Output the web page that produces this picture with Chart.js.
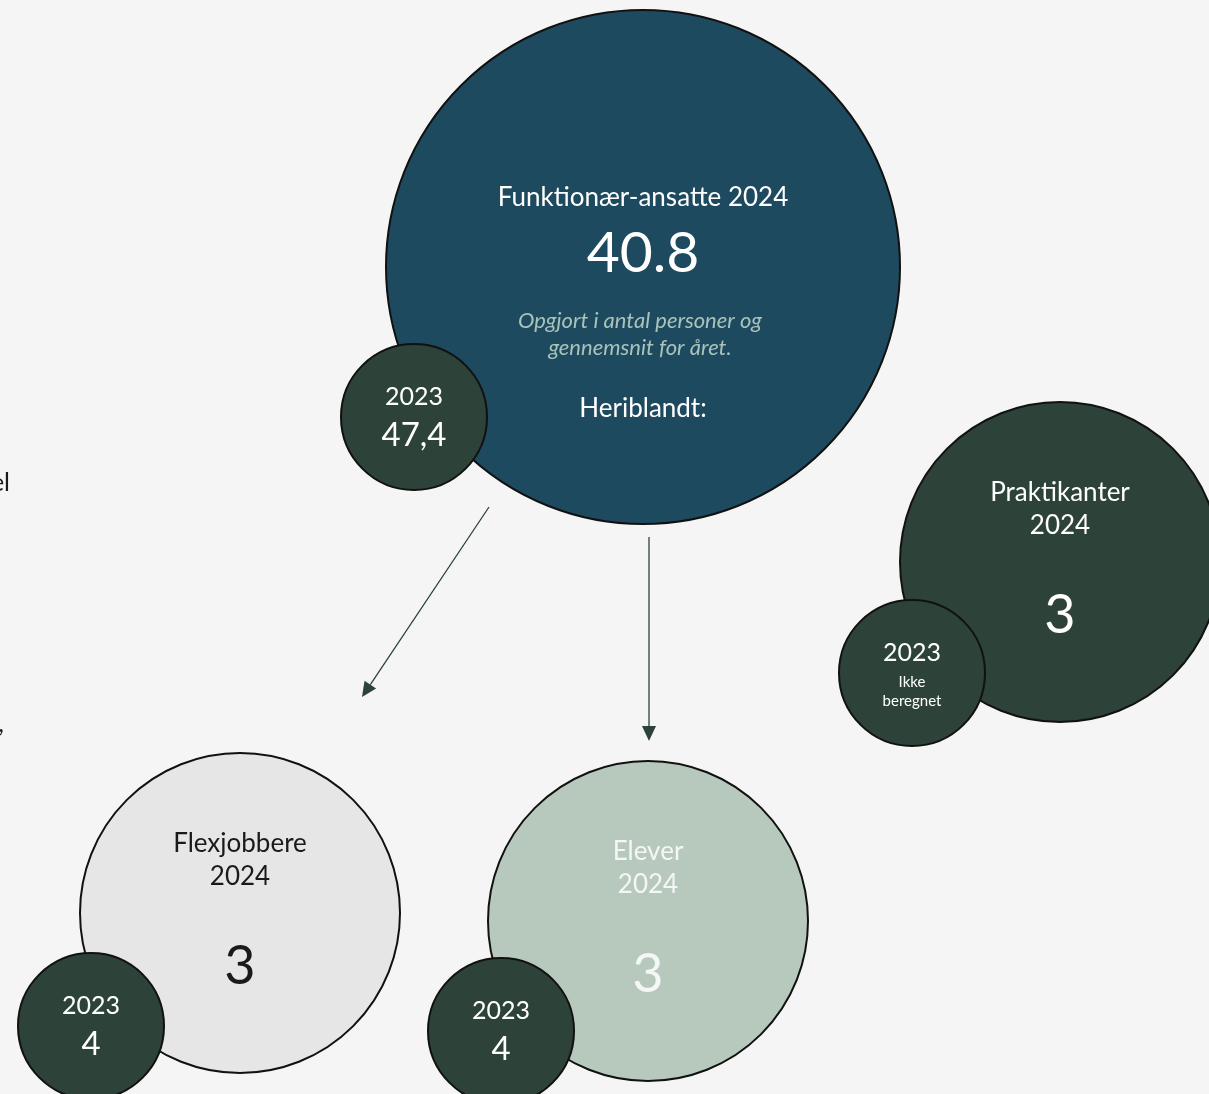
<!DOCTYPE html>
<html>
<head>
<meta charset="utf-8">
<script src="https://cdn.jsdelivr.net/npm/chart.js@4.4.1/dist/chart.umd.min.js"></script>
<style>
  html, body { margin: 0; padding: 0; background: #f5f5f5; }
  #wrap { width: 1209px; height: 1094px; position: relative; }
</style>
</head>
<body>
<div id="wrap"><canvas id="bubbles"></canvas></div>
<script>
// ── Data ──────────────────────────────────────────────
const groups      = ['Funktionær-ansatte', 'Praktikanter', 'Flexjobbere', 'Elever'];
const values2024  = ['40.8', '3', '3', '3'];
const values2023  = ['47,4', 'Ikke beregnet', '4', '4'];
const yearNow     = '2024';
const yearPrev    = '2023';
const noteLines   = ['Opgjort i antal personer og', 'gennemsnit for året.'];
const subLabel    = 'Heriblandt:';

// layout grid (chart units) for the main and the 2023 bubbles
const mainX = [643, 1060, 240, 648];
const mainY = [267, 562, 913, 921];
const mainR = [257, 160, 160, 160];
const prevX = [414, 912, 91, 501];
const prevY = [417, 673, 1026, 1031];
const prevR = [73, 73, 73, 73];

// ── Style ─────────────────────────────────────────────
const FONT      = 'Lato, "Open Sans", sans-serif';
const DARK      = '#2d4239';
const mainFill  = ['#1e4a5f', DARK, '#e6e6e6', '#b7c9bd'];
const mainInk   = ['#ffffff', '#ffffff', '#1a1a1a', '#f4f7f5'];

function txt(ctx, s, x, y, size, color, style) {
  ctx.font = (style || '') + ' ' + size + 'px ' + FONT;
  ctx.fillStyle = color;
  ctx.textAlign = 'center';
  ctx.textBaseline = 'middle';
  ctx.fillText(s, x, y);
}

function arrow(ctx, x1, y1, x2, y2) {
  const a = Math.atan2(y2 - y1, x2 - x1);
  const hl = 15, hw = 7;
  const bx = x2 - hl * Math.cos(a), by = y2 - hl * Math.sin(a);
  ctx.strokeStyle = DARK; ctx.fillStyle = DARK; ctx.lineWidth = 1.3;
  ctx.beginPath(); ctx.moveTo(x1, y1); ctx.lineTo(bx, by); ctx.stroke();
  ctx.beginPath();
  ctx.moveTo(x2, y2);
  ctx.lineTo(bx + hw * Math.sin(a), by - hw * Math.cos(a));
  ctx.lineTo(bx - hw * Math.sin(a), by + hw * Math.cos(a));
  ctx.closePath(); ctx.fill();
}

// text and arrows on top of the bubbles
const labelsPlugin = {
  id: 'labels',
  afterDatasetsDraw(chart) {
    const ctx = chart.ctx;
    const xs = chart.scales.x, ys = chart.scales.y;
    const px = v => xs.getPixelForValue(v), py = v => ys.getPixelForValue(v);
    ctx.save();

    // arrows from the main bubble
    arrow(ctx, px(489), py(507), px(362), py(697));
    arrow(ctx, px(649), py(537), px(649), py(741));

    // main bubble
    let cx = px(mainX[0]), cy = py(mainY[0]);
    txt(ctx, groups[0] + ' ' + yearNow, cx, cy - 69, 26, mainInk[0]);
    txt(ctx, values2024[0], cx, cy - 13, 57, mainInk[0]);
    txt(ctx, noteLines[0], cx - 3, cy + 54, 22, '#a9c3ba', 'italic');
    txt(ctx, noteLines[1], cx - 3, cy + 81, 22, '#a9c3ba', 'italic');
    txt(ctx, subLabel, cx, cy + 142, 26, mainInk[0]);

    // other 2024 bubbles
    for (let i = 1; i < groups.length; i++) {
      cx = px(mainX[i]); cy = py(mainY[i]);
      txt(ctx, groups[i], cx, cy - 69, 26, mainInk[i]);
      txt(ctx, yearNow, cx, cy - 36, 26, mainInk[i]);
      txt(ctx, values2024[i], cx, cy + 54, 54, mainInk[i]);
    }

    // 2023 bubbles
    for (let i = 0; i < groups.length; i++) {
      cx = px(prevX[i]); cy = py(prevY[i]);
      txt(ctx, yearPrev, cx, cy - 20, 25, '#ffffff');
      const words = values2023[i].split(' ');
      if (words.length > 1) {
        txt(ctx, words[0], cx, cy + 9, 15, '#ffffff');
        txt(ctx, words[1], cx, cy + 28, 15, '#ffffff');
      } else {
        txt(ctx, values2023[i], cx, cy + 18, 33, '#ffffff');
      }
    }

    // clipped text fragments at the left edge
    ctx.font = '25px ' + FONT;
    ctx.fillStyle = '#1a1a1a';
    ctx.textAlign = 'right';
    ctx.textBaseline = 'middle';
    ctx.fillText('el', px(10), py(483));
    ctx.fillText(',', px(4), py(724));
    ctx.restore();
  }
};

const chart = new Chart(document.getElementById('bubbles'), {
  type: 'bubble',
  data: {
    datasets: [
      {
        label: yearPrev,
        order: 0,
        data: prevX.map((x, i) => ({ x: x, y: prevY[i], r: prevR[i] })),
        backgroundColor: DARK,
        borderColor: '#111111',
        borderWidth: 2,
      },
      {
        label: yearNow,
        order: 1,
        data: mainX.map((x, i) => ({ x: x, y: mainY[i], r: mainR[i] })),
        backgroundColor: mainFill,
        borderColor: '#111111',
        borderWidth: 2,
      },
    ],
  },
  options: {
    responsive: true,
    maintainAspectRatio: false,
    animation: false,
    layout: { padding: 0, autoPadding: false },
    clip: false,
    plugins: { legend: { display: false }, tooltip: { enabled: false } },
    elements: { point: { hoverRadius: 0, hoverBorderWidth: 2 } },
    scales: {
      x: { type: 'linear', min: 0, max: 1209, display: false },
      y: { type: 'linear', min: 0, max: 1094, reverse: true, display: false },
    },
  },
  plugins: [labelsPlugin],
});
</script>
</body>
</html>
